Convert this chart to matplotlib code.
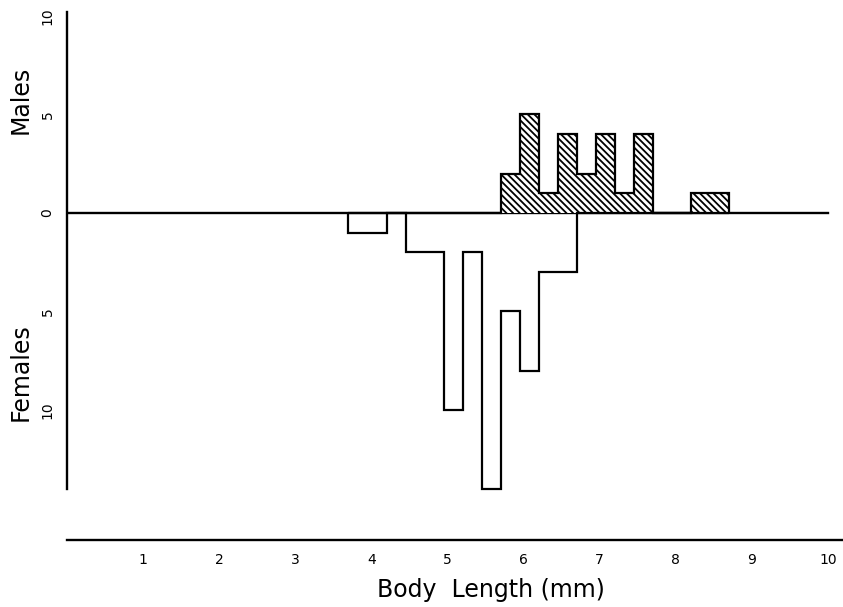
import matplotlib
matplotlib.use("Agg")
import matplotlib.pyplot as plt

# ── Data ────────────────────────────────────────────────────────────────────
# bin edges (mm), 0.25 mm bins
edges = [3.70, 3.95, 4.20, 4.45, 4.70, 4.95, 5.20, 5.45, 5.70, 5.95, 6.20,
         6.45, 6.70, 6.95, 7.20, 7.45, 7.70, 7.95, 8.20, 8.45, 8.70]
males = [0, 0, 0, 0, 0, 0, 0, 0, 2, 5, 1, 4, 2, 4, 1, 4, 0, 0, 1, 1]
females = [1, 1, 0, 2, 2, 10, 2, 14, 5, 8, 3, 3, 0, 0, 0, 0, 0, 0, 0, 0]

x_ticks = [1, 2, 3, 4, 5, 6, 7, 8, 9, 10]
y_ticks = [10, 5, 0, -5, -10]
y_ticklabels = ["10", "5", "0", "5", "10"]

# ── Plot ────────────────────────────────────────────────────────────────────
plt.rcParams.update({
    "font.family": "DejaVu Sans",
    "hatch.linewidth": 1.3,
})

W, H = 843, 607
fig = plt.figure(figsize=(W / 100, H / 100), dpi=100)
ax = fig.add_axes([67 / W, 1 - 540 / H, (W - 67) / W, 532 / H])
ax.set_xlim(0, 10.2)
ax.set_ylim(-16.6, 10.4)

# males: hatched, upward
ax.stairs(males, edges, baseline=0, fill=True, facecolor="white",
          edgecolor="black", hatch="\\" * 5, linewidth=1.6, zorder=3)
# females: open outline, downward
ax.stairs([-v for v in females], edges, baseline=0, fill=False,
          color="black", linewidth=1.6, zorder=3)

# zero line
ax.plot([0, 10], [0, 0], color="black", linewidth=1.7, zorder=2)

for side in ("top", "right"):
    ax.spines[side].set_visible(False)
ax.spines["left"].set_bounds(-14, 10.2)
ax.spines["left"].set_linewidth(1.7)
ax.spines["bottom"].set_linewidth(1.7)

ax.set_xticks(x_ticks)
ax.set_xticklabels([str(t) for t in x_ticks])
ax.set_yticks(y_ticks)
ax.set_yticklabels(y_ticklabels, rotation=90, va="center")
ax.tick_params(axis="x", length=0, pad=9, labelsize=10)
ax.tick_params(axis="y", length=0, pad=9, labelsize=10)

fig.text(21 / W, 1 - 100 / H, "Males", rotation=90, ha="center",
         va="center", fontsize=17)
fig.text(21 / W, 1 - 372 / H, "Females", rotation=90, ha="center",
         va="center", fontsize=17)
fig.text(491 / W, 1 - 590 / H, "Body  Length (mm)", ha="center",
         va="center", fontsize=17)

fig.savefig("out.png", dpi=100)
